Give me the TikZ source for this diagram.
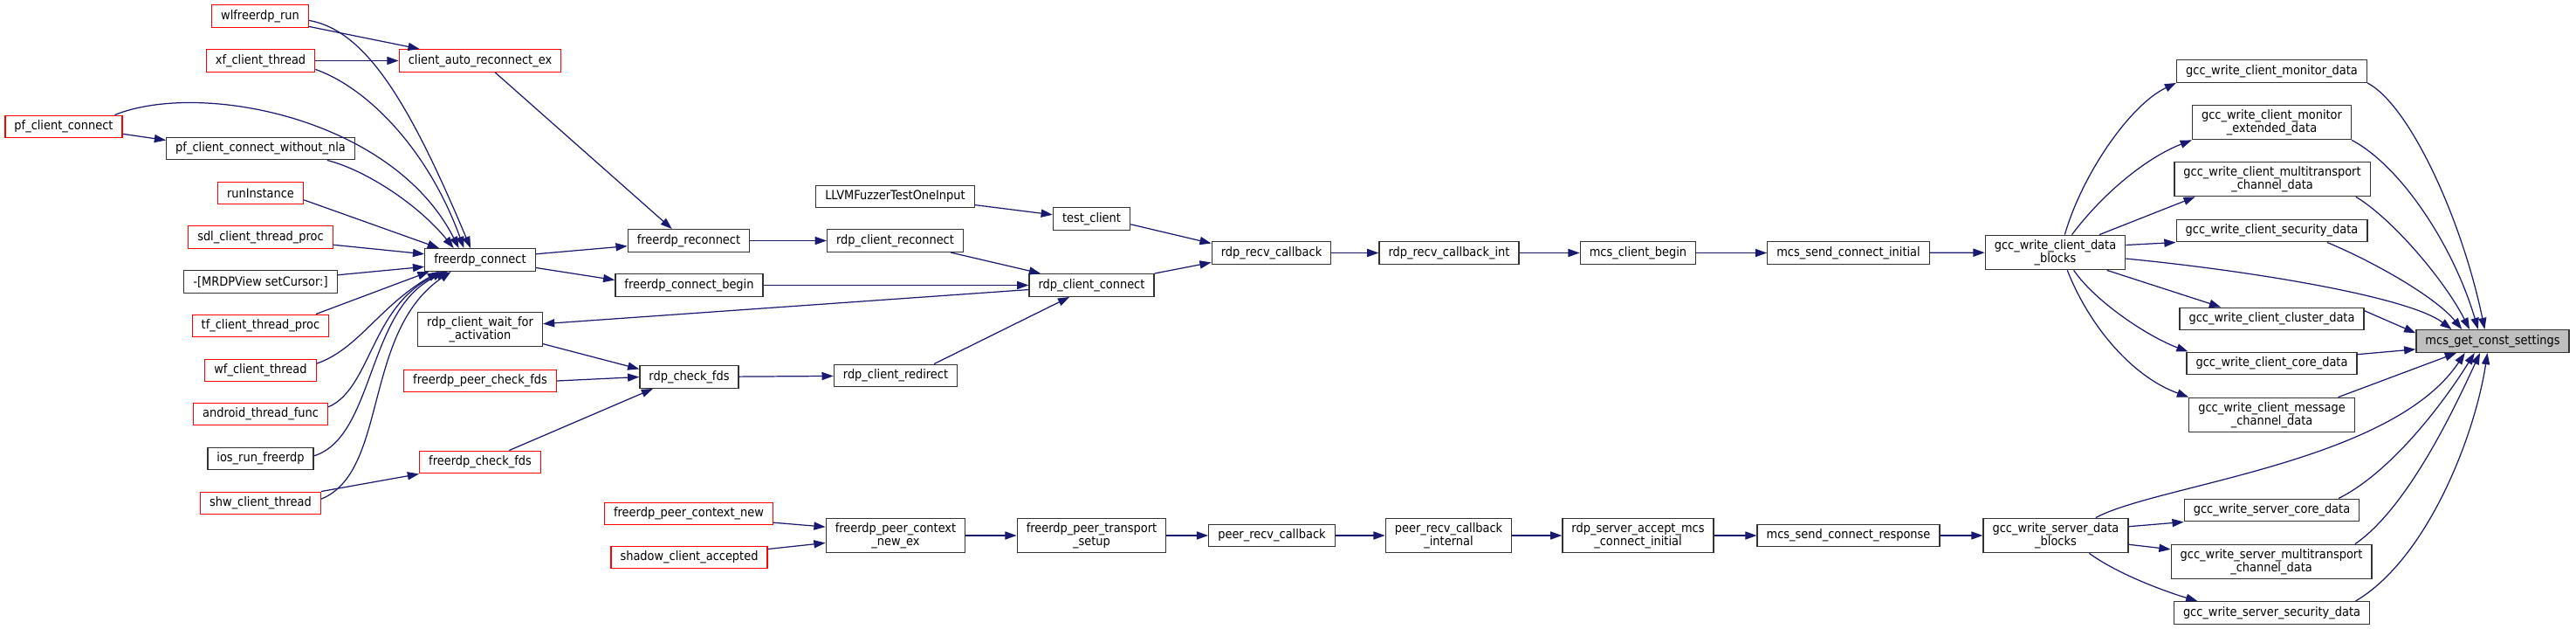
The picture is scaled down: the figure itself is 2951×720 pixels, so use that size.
\documentclass[tikz,border=0pt]{standalone}
\usepackage{fontspec}
\newfontfamily\dxfont{DejaVu Sans}[FakeStretch=0.9]
\usetikzlibrary{arrows.meta}
\definecolor{callblue}{HTML}{191970}
\definecolor{rootgray}{HTML}{BFBFBF}

\begin{document}
\begin{tikzpicture}[x=0.02cm,y=-0.02cm,
  every node/.style={draw=black!80,line width=0.75pt,fill=white,align=center,
    font=\dxfont\fontsize{8.2}{8.3}\selectfont,inner xsep=6pt,inner ysep=3pt,minimum height=14.6pt},
  truncbox/.style={draw=red},
  rootbox/.style={fill=rootgray},
  callarrow/.style={draw=callblue,line width=0.7pt,-{Triangle[length=7.5pt,width=5.2pt]}}]
    \useasboundingbox (0,0) rectangle (2951,720);

    \node[truncbox] (wlrun) at (298,18.5) {wlfreerdp\_run};
    \node[truncbox] (xfthread) at (298.5,69.5) {xf\_client\_thread};
    \node[truncbox] (autoreconn) at (550,69.5) {client\_auto\_reconnect\_ex};
    \node[truncbox] (pfconn) at (73,145) {pf\_client\_connect};
    \node (pfnla) at (298.5,170) {pf\_client\_connect\_without\_nla};
    \node[truncbox] (runinst) at (298.5,221) {runInstance};
    \node[truncbox] (sdlproc) at (298.5,271.5) {sdl\_client\_thread\_proc};
    \node (mrdp) at (298.5,322.5) {-[MRDPView setCursor:]};
    \node[truncbox] (tfproc) at (298.5,373) {tf\_client\_thread\_proc};
    \node[truncbox] (wfthread) at (298.5,424) {wf\_client\_thread};
    \node[truncbox] (android) at (298.5,474) {android\_thread\_func};
    \node (iosrun) at (298.5,525) {ios\_run\_freerdp};
    \node[truncbox] (shwthread) at (298.5,576) {shw\_client\_thread};

    \node (fconnect) at (550,297.5) {freerdp\_connect};
    \node (waitact) at (550,377) {rdp\_client\_wait\_for\\\_activation};
    \node[truncbox] (peerfds) at (550,436) {freerdp\_peer\_check\_fds};
    \node[truncbox] (checkfds) at (550,529) {freerdp\_check\_fds};

    \node (freconn) at (789,275.5) {freerdp\_reconnect};
    \node (connbegin) at (789.5,326.5) {freerdp\_connect\_begin};
    \node (rdpfds) at (789.5,431.5) {rdp\_check\_fds};
    \node[truncbox] (ctxnew) at (789,588) {freerdp\_peer\_context\_new};
    \node[truncbox] (shadow) at (789.5,638) {shadow\_client\_accepted};

    \node (llvm) at (1025.5,225) {LLVMFuzzerTestOneInput};
    \node (clreconn) at (1025.5,275.5) {rdp\_client\_reconnect};
    \node (redirect) at (1026,430) {rdp\_client\_redirect};
    \node (ctxnewex) at (1026,613) {freerdp\_peer\_context\\\_new\_ex};

    \node (testcl) at (1250.5,250.5) {test\_client};
    \node (clconn) at (1250.5,326.5) {rdp\_client\_connect};
    \node (transport) at (1250.5,613) {freerdp\_peer\_transport\\\_setup};

    \node (recvcb) at (1456.5,289.5) {rdp\_recv\_callback};
    \node (peercb) at (1457,613) {peer\_recv\_callback};
    \node (recvint) at (1660,289.5) {rdp\_recv\_callback\_int};
    \node (peerint) at (1659.5,613) {peer\_recv\_callback\\\_internal};
    \node (mcsbegin) at (1876.5,289.5) {mcs\_client\_begin};
    \node (acceptmcs) at (1876.5,613) {rdp\_server\_accept\_mcs\\\_connect\_initial};
    \node (sendinit) at (2117.5,289.5) {mcs\_send\_connect\_initial};
    \node (sendresp) at (2117.5,613) {mcs\_send\_connect\_response};
    \node (cldata) at (2354.5,289) {gcc\_write\_client\_data\\\_blocks};
    \node (svdata) at (2355,613) {gcc\_write\_server\_data\\\_blocks};

    \node (monitor) at (2602.5,81.5) {gcc\_write\_client\_monitor\_data};
    \node (monext) at (2602.5,140) {gcc\_write\_client\_monitor\\\_extended\_data};
    \node (clmulti) at (2603,205) {gcc\_write\_client\_multitransport\\\_channel\_data};
    \node (clsec) at (2602.5,264) {gcc\_write\_client\_security\_data};
    \node (cluster) at (2602.5,365) {gcc\_write\_client\_cluster\_data};
    \node (clcore) at (2602.5,416) {gcc\_write\_client\_core\_data};
    \node (msgchan) at (2602.5,475) {gcc\_write\_client\_message\\\_channel\_data};
    \node (svcore) at (2602.5,584) {gcc\_write\_server\_core\_data};
    \node (svmulti) at (2602,643) {gcc\_write\_server\_multitransport\\\_channel\_data};
    \node (svsec) at (2602.5,701.5) {gcc\_write\_server\_security\_data};
    \node[rootbox] (settings) at (2855.5,390.5) {mcs\_get\_const\_settings};

    \draw[callarrow] (wlrun.-12) -- (autoreconn.169);
    \draw[callarrow] (wlrun.-5) .. controls (420,35) and (470,120) .. (fconnect.129);
    \draw[callarrow] (xfthread.east) -- (autoreconn.west);
    \draw[callarrow] (xfthread.-9) .. controls (420,100) and (490,170) .. (fconnect.144);
    \draw[callarrow] (autoreconn.-38) -- (freconn.145);
    \draw[callarrow] (pfconn.-7) -- (pfnla.175);
    \draw[callarrow] (pfconn.13) .. controls (230,92) and (450,135) .. (fconnect.151);
    \draw[callarrow] (pfnla.-10) .. controls (420,195) and (480,235) .. (fconnect.156);
    \draw[callarrow] (runinst.-9) -- (fconnect.164);
    \draw[callarrow] (sdlproc.-6) -- (fconnect.174);
    \draw[callarrow] (mrdp.5) -- (fconnect.187);
    \draw[callarrow] (tfproc.12) -- (fconnect.193);
    \draw[callarrow] (wfthread.7) .. controls (410,400) and (435,350) .. (fconnect.196);
    \draw[callarrow] (android.6) .. controls (425,445) and (425,350) .. (fconnect.198);
    \draw[callarrow] (iosrun.3) .. controls (430,500) and (420,350) .. (fconnect.200);
    \draw[callarrow] (shwthread.4) .. controls (445,540) and (415,380) .. (fconnect.202);
    \draw[callarrow] (shwthread.north east) -- (checkfds.south west);

    \draw[callarrow] (fconnect.6) -- (freconn.185);
    \draw[callarrow] (fconnect.-8) -- (connbegin.176);
    \draw[callarrow] (clconn.184) -- (waitact.5);
    \draw[callarrow] (waitact.-13) -- (rdpfds.171);
    \draw[callarrow] (peerfds.east) -- (rdpfds.west);
    \draw[callarrow] (checkfds.22) -- (rdpfds.198);
    \draw[callarrow] (freconn) -- (clreconn);
    \draw[callarrow] (connbegin) -- (clconn);
    \draw[callarrow] (clreconn.-12) -- (clconn.167);
    \draw[callarrow] (rdpfds) -- (redirect);
    \draw[callarrow] (redirect.17) -- (clconn.208);
    \draw[callarrow] (llvm.-6) -- (testcl.174);
    \draw[callarrow] (testcl.-8) -- (recvcb.171);
    \draw[callarrow] (clconn.north east) -- (recvcb.189);
    \draw[callarrow] (recvcb) -- (recvint);
    \draw[callarrow] (recvint) -- (mcsbegin);
    \draw[callarrow] (mcsbegin) -- (sendinit);
    \draw[callarrow] (sendinit) -- (cldata);

    \draw[callarrow] (cldata.62) .. controls (2385,200) and (2440,120) .. (monitor.187);
    \draw[callarrow] (cldata.47) .. controls (2410,220) and (2460,180) .. (monext.south west);
    \draw[callarrow] (cldata.22) -- (clmulti.193);
    \draw[callarrow] (cldata.6) -- (clsec.south west);
    \draw[callarrow] (cldata.-19) -- (cluster.167);
    \draw[callarrow] (cldata.-44) .. controls (2400,345) and (2460,385) .. (clcore.172);
    \draw[callarrow] (cldata.-56) .. controls (2392,370) and (2440,430) .. (msgchan.north west);
    \draw[callarrow] (cldata.-5) .. controls (2580,310) and (2760,340) .. (settings.164);
    \draw[callarrow] (monitor.-7) .. controls (2760,120) and (2820,250) .. (settings.124);
    \draw[callarrow] (monext.south east) .. controls (2750,190) and (2810,280) .. (settings.141);
    \draw[callarrow] (clmulti.-12) .. controls (2740,250) and (2800,320) .. (settings.153);
    \draw[callarrow] (clsec.-12) .. controls (2720,300) and (2790,340) .. (settings.159);
    \draw[callarrow] (cluster.5) -- (settings.174);
    \draw[callarrow] (clcore.6) -- (settings.186);
    \draw[callarrow] (msgchan.15) -- (settings.198);

    \draw[callarrow] (ctxnew.-6) -- (ctxnewex.173);
    \draw[callarrow] (shadow.6) -- (ctxnewex.186);
    \draw[callarrow] (ctxnewex) -- (transport);
    \draw[callarrow] (transport) -- (peercb);
    \draw[callarrow] (peercb) -- (peerint);
    \draw[callarrow] (peerint) -- (acceptmcs);
    \draw[callarrow] (acceptmcs) -- (sendresp);
    \draw[callarrow] (sendresp) -- (svdata);
    \draw[callarrow] (svdata.7) -- (svcore.south west);
    \draw[callarrow] (svdata.-7) -- (svmulti.173);
    \draw[callarrow] (svdata.-28) .. controls (2430,660) and (2490,680) .. (svsec.171);
    \draw[callarrow] (svdata.24) .. controls (2470,555) and (2740,530) .. (settings.203);
    \draw[callarrow] (svcore.10) .. controls (2740,540) and (2800,460) .. (settings.213);
    \draw[callarrow] (svmulti.12) .. controls (2760,580) and (2815,460) .. (settings.223);
    \draw[callarrow] (svsec.8) .. controls (2780,640) and (2835,500) .. (settings.246);
\end{tikzpicture}
\end{document}
